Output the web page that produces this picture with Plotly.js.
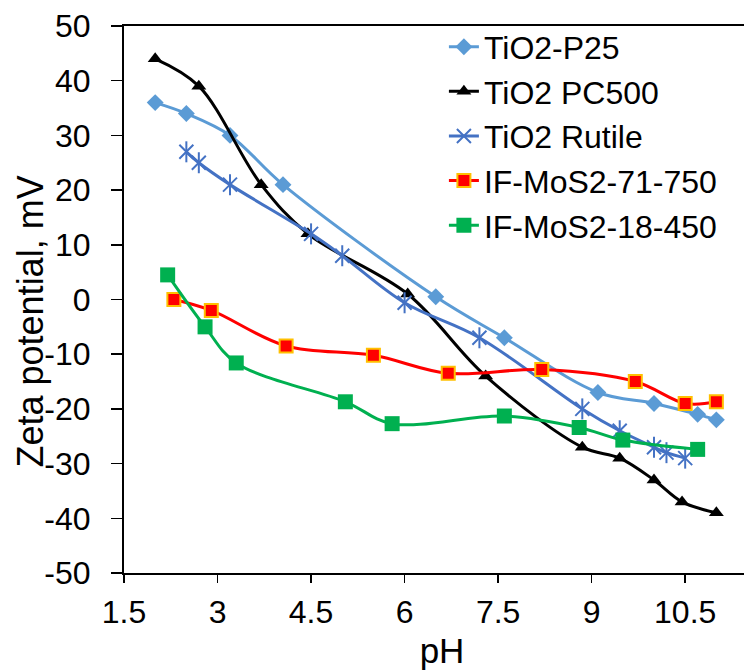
<!DOCTYPE html>
<html>
<head>
<meta charset="utf-8">
<script src="https://cdn.plot.ly/plotly-3.0.1.min.js"></script>
<style>
html,body{margin:0;padding:0;overflow:hidden;background:#fff;}
#chart{width:760px;height:670px;}
</style>
</head>
<body>
<div id="chart"></div>
<script>
// ---- data ----
const seriesNames = ["TiO2-P25", "TiO2 PC500", "TiO2 Rutile", "IF-MoS2-71-750", "IF-MoS2-18-450"];

const p25X = [2, 2.5, 3.2, 4.05, 6.5, 7.6, 9.1, 10, 10.7, 11];
const p25Y = [36, 34, 30, 21, 0.5, -7, -17, -19, -21, -22];

const pc500X = [2, 2.7, 3.7, 4.45, 6.05, 7.3, 8.85, 9.45, 10, 10.45, 11];
const pc500Y = [44, 39, 21, 12, 1, -14, -27, -29, -33, -37, -39];

const rutileX = [2.5, 2.7, 3.2, 4.5, 5, 6, 7.2, 8.85, 9.45, 10, 10.2, 10.5];
const rutileY = [27, 25, 21, 12, 8, -0.6, -7, -20, -24, -27, -28, -29];

const mos71X = [2.3, 2.9, 4.1, 5.5, 6.7, 8.2, 9.7, 10.5, 11];
const mos71Y = [0, -2, -8.5, -10.2, -13.5, -12.8, -15, -19, -18.7];

const mos18X = [2.2, 2.8, 3.3, 5.05, 5.8, 7.6, 8.8, 9.5, 10.7];
const mos18Y = [4.5, -5, -11.6, -18.7, -22.7, -21.3, -23.4, -25.7, -27.4];

const xTickVals = [1.5, 3, 4.5, 6, 7.5, 9, 10.5];
const xTickText = ["1.5", "3", "4.5", "6", "7.5", "9", "10.5"];
const yTickVals = [-50, -40, -30, -20, -10, 0, 10, 20, 30, 40, 50];
const yTickText = ["-50", "-40", "-30", "-20", "-10", "0", "10", "20", "30", "40", "50"];

const xTitle = "pH";
const yTitle = "Zeta potential, mV";

// ---- traces ----
const FONT = "Liberation Sans, Arial, sans-serif";
const spline = {shape: "spline", smoothing: 1};

const traces = [
  {x: p25X, y: p25Y, name: seriesNames[0], mode: "lines+markers", type: "scatter",
   line: Object.assign({color: "#5B9BD5", width: 3}, spline),
   marker: {symbol: "diamond", size: 13, color: "#5B9BD5"}},
  {x: pc500X, y: pc500Y, name: seriesNames[1], mode: "lines+markers", type: "scatter",
   line: Object.assign({color: "#000000", width: 3}, spline),
   marker: {symbol: "triangle-up", size: 13, color: "#000000"}},
  {x: rutileX, y: rutileY, name: seriesNames[2], mode: "lines+markers", type: "scatter",
   line: Object.assign({color: "#4472C4", width: 3}, spline),
   marker: {symbol: "x-thin-open", size: 14, color: "#4472C4", line: {width: 2, color: "#4472C4"}}},
  {x: rutileX, y: rutileY, name: seriesNames[2], mode: "markers", type: "scatter", showlegend: false,
   hoverinfo: "skip",
   marker: {symbol: "line-ns-open", size: 15, color: "#4472C4", line: {width: 2, color: "#4472C4"}}},
  {x: mos71X, y: mos71Y, name: seriesNames[3], mode: "lines+markers", type: "scatter",
   line: Object.assign({color: "#FF0000", width: 3}, spline),
   marker: {symbol: "square", size: 13, color: "#FF0000", line: {width: 2, color: "#FFC000"}}},
  {x: mos18X, y: mos18Y, name: seriesNames[4], mode: "lines+markers", type: "scatter",
   line: Object.assign({color: "#00B050", width: 3}, spline),
   marker: {symbol: "square", size: 15, color: "#00B050"}}
];

const layout = {
  width: 760, height: 670,
  margin: {l: 124, r: 0, t: 26, b: 97, pad: 0},
  paper_bgcolor: "#ffffff", plot_bgcolor: "#ffffff",
  font: {family: FONT, size: 32, color: "#000000"},
  showlegend: true,
  legend: {x: 0.503, y: 1.012, xanchor: "left", yanchor: "top",
           bgcolor: "rgba(255,255,255,0)", font: {family: FONT, size: 32, color: "#000"},
           tracegroupgap: 0},
  xaxis: {
    range: [1.5, 11.7], tickmode: "array", tickvals: xTickVals, ticktext: xTickText,
    showgrid: false, zeroline: false, showline: true, linecolor: "#000", linewidth: 2,
    mirror: true, ticks: "outside", ticklen: 8, tickwidth: 1.5, tickcolor: "#000",
    ticklabelstandoff: 2,
    tickfont: {family: FONT, size: 32, color: "#000"},
    title: {text: xTitle, font: {family: FONT, size: 35, color: "#000"}, standoff: 9},
    automargin: false
  },
  yaxis: {
    range: [-50, 50], tickmode: "array", tickvals: yTickVals, ticktext: yTickText,
    showgrid: false, zeroline: false, showline: true, linecolor: "#000", linewidth: 2,
    mirror: true, ticks: "outside", ticklen: 11, tickwidth: 1.5, tickcolor: "#000",
    ticklabelstandoff: 14,
    tickfont: {family: FONT, size: 32, color: "#000"},
    automargin: false
  },
  annotations: [
    {text: yTitle, xref: "paper", yref: "paper", x: 0, y: 0.5, xanchor: "center", yanchor: "middle",
     xshift: -94, yshift: -22, textangle: -90, showarrow: false,
     font: {family: FONT, size: 36, color: "#000"}}
  ]
};

Plotly.newPlot("chart", traces, layout, {displayModeBar: false, staticPlot: true});
</script>
</body>
</html>
